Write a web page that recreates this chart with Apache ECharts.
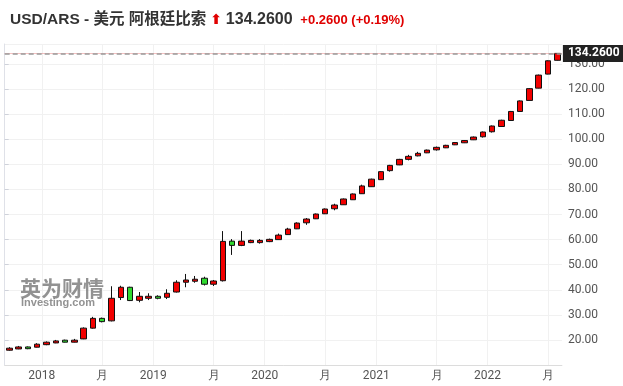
<!DOCTYPE html>
<html>
<head>
<meta charset="utf-8">
<script src="https://cdn.jsdelivr.net/npm/echarts@6/dist/echarts.min.js"></script>
<style>
  html, body { margin: 0; padding: 0; background: #fff; }
  #chart { width: 623px; height: 386px; }
</style>
</head>
<body>
<div id="chart"></div>
<script>
// Monthly candles, Sep 2017 – Aug 2022
const months = [
  '2017-09','2017-10','2017-11','2017-12',
  '2018-01','2018-02','2018-03','2018-04','2018-05','2018-06','2018-07','2018-08','2018-09','2018-10','2018-11','2018-12',
  '2019-01','2019-02','2019-03','2019-04','2019-05','2019-06','2019-07','2019-08','2019-09','2019-10','2019-11','2019-12',
  '2020-01','2020-02','2020-03','2020-04','2020-05','2020-06','2020-07','2020-08','2020-09','2020-10','2020-11','2020-12',
  '2021-01','2021-02','2021-03','2021-04','2021-05','2021-06','2021-07','2021-08','2021-09','2021-10','2021-11','2021-12',
  '2022-01','2022-02','2022-03','2022-04','2022-05','2022-06','2022-07','2022-08'
];
const opens = [
  15.9, 16.4, 17.2, 17.1,
  18.1, 18.8, 19.9, 19.1, 20.4, 24.7, 28.6, 27.6, 36.9, 41.0, 35.8, 36.6,
  37.4, 37.0, 39.1, 43.0, 43.4, 44.6, 42.2, 43.6, 59.4, 57.7, 58.8, 58.8,
  59.2, 60.0, 62.0, 64.3, 66.7, 68.3, 70.3, 72.3, 73.9, 75.9, 78.3, 81.1,
  83.9, 87.5, 89.8, 92.0, 93.4, 94.6, 95.8, 96.6, 97.8, 98.6, 99.8, 101.0,
  103.0, 105.1, 107.5, 111.1, 115.5, 120.4, 126.0, 131.5
];
const closes = [
  16.7, 17.2, 16.5, 18.3,
  19.1, 19.6, 19.1, 19.9, 24.7, 28.6, 27.3, 36.6, 41.0, 35.7, 37.4, 37.4,
  36.6, 38.6, 43.0, 43.9, 44.2, 42.2, 43.5, 59.3, 57.7, 59.4, 59.7, 59.7,
  60.1, 61.8, 64.2, 66.6, 68.2, 70.2, 72.2, 73.8, 76.2, 78.2, 81.4, 84.1,
  87.1, 89.6, 92.0, 93.2, 94.4, 95.7, 96.8, 97.6, 98.7, 99.5, 100.9, 102.9,
  105.3, 107.6, 111.1, 115.3, 120.2, 125.6, 131.3, 134.26
];
const lows = [
  15.7, 16.3, 16.3, 17.0,
  17.9, 18.7, 19.0, 19.0, 20.3, 24.5, 27.0, 27.4, 35.9, 35.5, 35.0, 35.9,
  36.2, 36.3, 38.9, 41.0, 42.8, 41.7, 41.5, 43.3, 53.9, 57.4, 58.6, 58.4,
  59.0, 59.9, 61.9, 64.2, 65.9, 68.2, 70.2, 71.7, 73.8, 75.8, 78.2, 81.0,
  83.8, 87.1, 89.7, 91.6, 93.2, 94.5, 95.5, 96.5, 97.7, 98.5, 99.7, 100.7,
  102.7, 105.0, 107.4, 111.0, 115.4, 120.3, 125.9, 131.4
];
const highs = [
  17.1, 17.6, 17.4, 18.7,
  19.4, 20.0, 20.1, 20.4, 25.0, 29.2, 28.9, 41.4, 41.6, 41.2, 39.1, 38.6,
  37.8, 40.2, 43.8, 46.3, 45.5, 45.2, 43.9, 63.4, 60.2, 63.4, 60.0, 60.2,
  60.4, 62.4, 64.7, 66.9, 68.6, 70.4, 72.4, 74.3, 76.4, 78.4, 81.9, 84.3,
  87.3, 89.8, 92.2, 93.8, 95.0, 95.9, 97.1, 97.8, 98.9, 99.7, 101.1, 103.1,
  105.5, 107.8, 111.3, 115.5, 120.4, 125.8, 131.5, 134.4
];
// x tick positions (months since Sep 2017) and their labels
const xTickPos = [4, 10.5, 16, 22.5, 28, 34.5, 40, 46.5, 52, 58.5];
const xTickLabels = ['2018', '月', '2019', '月', '2020', '月', '2021', '月', '2022', '月'];
const lastPrice = 134.26;

const ohlc = months.map((m, i) => [opens[i], closes[i], lows[i], highs[i]]);

const chart = echarts.init(document.getElementById('chart'));
const labelColor = '#555';
const gridColor = '#f1f1f1';

chart.setOption({
  animation: false,
  backgroundColor: '#fff',
  title: {
    left: 5,
    top: 7,
    text: '{a|USD/ARS - 美元 阿根廷比索} {arr|⬆} {b|134.2600}  {c|+0.2600 (+0.19%)}',
    textStyle: {
      fontSize: 14,
      rich: {
        a: { fontSize: 15.5, color: '#333', fontFamily: 'Liberation Sans, Noto Sans CJK SC, sans-serif' },
        arr: { fontSize: 14, color: '#e00000', fontFamily: 'DejaVu Sans' },
        b: { fontSize: 16, fontWeight: 'bold', color: '#333', fontFamily: 'Liberation Sans, sans-serif' },
        c: { fontSize: 13, fontWeight: 'bold', color: '#e00000', fontFamily: 'Liberation Sans, sans-serif' }
      }
    }
  },
  graphic: [
    { type: 'text', left: 20, top: 278, z: 10, silent: true,
      style: { text: '英为财情', font: 'bold 21px "Noto Sans CJK SC"', fill: 'rgba(110,110,110,0.75)' } },
    { type: 'text', left: 21, top: 297, z: 10, silent: true,
      style: { text: 'Investing.com', font: 'bold 11px "Liberation Sans"', fill: 'rgba(110,110,110,0.75)' } }
  ],
  grid: { left: 4.7, right: 61.1, top: 44, bottom: 21 },
  xAxis: [
    {
      type: 'category',
      data: months,
      boundaryGap: true,
      axisLine: { show: true, lineStyle: { color: '#dcdcdc' } },
      axisTick: { show: false },
      axisLabel: { show: false },
      splitLine: { show: false }
    },
    {
      type: 'value',
      min: 0,
      max: 60,
      position: 'bottom',
      axisLine: { show: false, onZero: false },
      axisTick: { show: false, customValues: xTickPos },
      splitLine: { show: true, lineStyle: { color: gridColor } },
      axisLabel: {
        customValues: xTickPos,
        margin: 5,
        color: labelColor,
        fontSize: 12,
        fontFamily: 'Roboto',
        formatter: v => {
          const i = xTickPos.indexOf(v);
          return i >= 0 ? xTickLabels[i] : '';
        }
      }
    }
  ],
  yAxis: {
    type: 'value',
    position: 'right',
    min: 10,
    max: 138,
    interval: 10,
    axisLine: { show: true, lineStyle: { color: '#dfe1e8' } },
    axisTick: { show: true, length: 4, lineStyle: { color: '#cfd2da' } },
    splitLine: { show: true, lineStyle: { color: gridColor } },
    axisLabel: {
      showMinLabel: false,
      showMaxLabel: false,
      margin: 6,
      color: labelColor,
      fontSize: 12,
      fontFamily: 'Roboto',
      formatter: v => v.toFixed(2)
    }
  },
  series: [
    {
      type: 'candlestick',
      xAxisIndex: 0,
      yAxisIndex: 0,
      data: ohlc,
      barWidth: 6,
      itemStyle: {
        color: '#f20000',
        color0: '#2fd92f',
        borderColor: '#111',
        borderColor0: '#111',
        borderWidth: 1
      },
      markLine: {
        silent: true,
        symbol: 'none',
        animation: false,
        data: [
          {
            yAxis: lastPrice,
            lineStyle: { color: 'rgba(230,80,80,0.35)', type: 'solid', width: 1 },
            label: { show: false }
          },
          {
            yAxis: lastPrice,
            lineStyle: { color: '#999', type: [5, 3], width: 1.5 },
            label: {
              show: true,
              position: 'end',
              distance: 1,
              formatter: '134.2600',
              backgroundColor: '#222',
              color: '#fff',
              fontSize: 12,
              fontWeight: 'bold',
              fontFamily: 'Roboto',
              padding: [3, 5, 2, 5]
            }
          }
        ]
      }
    }
  ]
});
</script>
</body>
</html>
